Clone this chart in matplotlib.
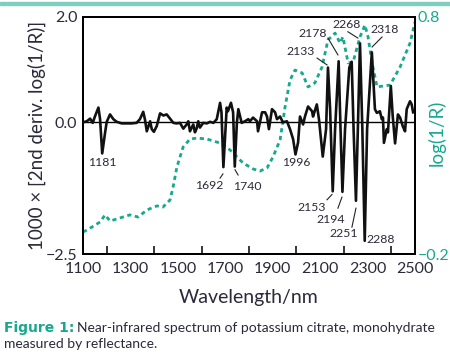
import matplotlib
matplotlib.use("Agg")
import matplotlib.pyplot as plt
from matplotlib.patches import Rectangle

plt.rcParams['font.family'] = ['Lato', 'DejaVu Sans']

# ---- 2nd derivative spectrum (left axis) ----
deriv_nm = [1100, 1116, 1130, 1141, 1151, 1165, 1172, 1181, 1193, 1200, 1214, 1228, 1242,
            1263, 1284, 1305, 1326, 1340, 1354, 1361, 1369, 1383, 1390, 1399, 1411, 1425,
            1439, 1453, 1467, 1481, 1495, 1509, 1523, 1537, 1544, 1551, 1565, 1572, 1579,
            1586, 1593, 1607, 1622, 1636, 1650, 1664, 1678, 1684, 1692, 1706, 1711, 1724,
            1733, 1740, 1749, 1755, 1769, 1783, 1797, 1804, 1817, 1834, 1838, 1855, 1868,
            1876, 1884, 1897, 1910, 1918, 1931, 1943, 1960, 1973, 1986, 1996, 2007, 2015,
            2028, 2036, 2049, 2066, 2070, 2086, 2095, 2111, 2125, 2133, 2142, 2153, 2163,
            2178, 2186, 2194, 2205, 2223, 2233, 2241, 2251, 2259, 2268, 2278, 2288, 2298,
            2318, 2331, 2339, 2344, 2352, 2360, 2365, 2369, 2381, 2386, 2398, 2406, 2416,
            2428, 2437, 2449, 2458, 2465, 2479, 2486, 2492]
deriv_val = [0.00, 0.02, 0.07, -0.01, 0.12, 0.28, 0.06, -0.59, -0.20, 0.01, 0.15, 0.06, 0.01,
             -0.02, -0.02, -0.02, -0.01, 0.06, 0.20, 0.06, -0.17, 0.02, -0.13, -0.18, -0.07, 0.17,
             0.13, 0.15, 0.07, -0.01, -0.02, -0.01, -0.12, -0.04, 0.02, -0.17, -0.04, -0.19, -0.12,
             0.02, -0.10, -0.01, -0.02, 0.01, -0.01, 0.06, 0.37, 0.19, -0.85, 0.28, 0.21, 0.37,
             0.19, -0.84, 0.00, 0.25, -0.01, 0.02, 0.06, 0.02, 0.09, 0.02, -0.17, 0.19, 0.19,
             0.11, -0.13, 0.25, 0.19, 0.06, 0.11, 0.00, 0.02, -0.13, -0.32, -0.61, -0.38, 0.11,
             -0.04, 0.11, 0.30, 0.21, 0.11, 0.34, 0.06, -0.65, -0.13, 1.04, 0.25, -1.31, -0.13,
             1.16, -0.13, -1.32, -0.13, 1.04, 1.15, -0.13, -1.49, -0.13, 1.50, -0.13, -2.25, -0.13,
             1.33, 0.25, 0.18, 0.19, 0.21, 0.06, 0.09, -0.39, -0.13, -0.19, 0.69, 0.12, -0.40,
             0.15, 0.09, -0.08, -0.17, 0.25, 0.40, 0.34, 0.19]

# ---- log(1/R) spectrum (right axis) ----
logr_nm = [1100, 1117, 1172, 1193, 1214, 1256, 1298, 1332, 1370, 1412, 1437, 1467, 1480,
           1496, 1522, 1551, 1581, 1623, 1678, 1720, 1775, 1817, 1846, 1876, 1901, 1931,
           1952, 1973, 1994, 2024, 2049, 2078, 2108, 2133, 2163, 2184, 2196, 2218, 2239,
           2268, 2289, 2302, 2319, 2340, 2395, 2437, 2479, 2500]
logr_val = [-0.107, -0.099, -0.065, -0.035, -0.061, -0.048, -0.035, -0.044, -0.014, 0.003,
            -0.002, 0.028, 0.083, 0.167, 0.251, 0.285, 0.289, 0.285, 0.268, 0.239, 0.184,
            0.159, 0.150, 0.163, 0.209, 0.281, 0.420, 0.534, 0.576, 0.564, 0.505, 0.522,
            0.589, 0.703, 0.732, 0.690, 0.716, 0.606, 0.610, 0.716, 0.766, 0.716, 0.606,
            0.505, 0.513, 0.589, 0.690, 0.779]

# ---- peak labels ----
peak_labels = ['1181', '1692', '1740', '1996', '2153', '2194', '2251', '2288',
               '2133', '2178', '2268', '2318']
label_xy = [(1180, -0.77), (1633, -1.19), (1792, -1.21), (1998, -0.77), (2066, -1.61),
            (2146, -1.84), (2201, -2.12), (2357, -2.23), (2019, 1.34), (2070, 1.68),
            (2213, 1.85), (2374, 1.77)]
leaders = [None, ((1678, -1.06), (1690, -0.98)), ((1741, -0.90), (1754, -1.00)), None,
           ((2129, -1.47), (2150, -1.37)), ((2175, -1.63), (2192, -1.42)),
           ((2234, -1.99), (2251, -1.63)), None,
           ((2087, 1.22), (2129, 1.09)), ((2133, 1.60), (2175, 1.28)),
           ((2217, 1.72), (2259, 1.60)), ((2361, 1.62), (2319, 1.43))]

x_ticks = [1100, 1300, 1500, 1700, 1900, 2100, 2300, 2500]
minor_ticks = list(range(1200, 2500, 100))

TEAL = '#17a88e'
TEXT = '#2a2a3a'

fig = plt.figure(figsize=(4.5, 3.57), dpi=100)
fig.patches.append(Rectangle((0, 0.986), 1, 0.009, transform=fig.transFigure,
                             color='#7fcfbf', zorder=0))

ax = fig.add_axes([83/450, 1 - 254/357, (415-83)/450, (254-17)/357])
ax2 = ax.twinx()
ax.set_zorder(ax2.get_zorder() + 1)
ax.patch.set_visible(False)

ax2.plot(logr_nm, logr_val, color=TEAL, lw=2.0, linestyle=(0, (1.5, 1.3)),
         solid_capstyle='butt')
ax2.set_ylim(-0.2, 0.8)
ax2.set_yticks([-0.2, 0.8])
ax2.set_yticklabels(['\u22120.2', '0.8'], color=TEAL, fontsize=11.5)
ax2.tick_params(axis='y', length=0, pad=2)
ax2.set_ylabel('log(1/R)', color=TEAL, fontsize=13.5)
ax2.yaxis.set_label_coords(1.039, 0.51)

ax.axhline(0, color='black', lw=1.0, zorder=1)
ax.plot(deriv_nm, deriv_val, color='#111111', lw=1.9, solid_joinstyle='round', zorder=3)
ax.set_xlim(1100, 2500)
ax.set_ylim(-2.5, 2.0)
ax.set_yticks([-2.5, 0.0, 2.0])
ax.set_yticklabels(['\u22122.5', '0.0', '2.0'], fontsize=11.5, color=TEXT)
ax.tick_params(axis='y', length=0, pad=4)
ax.set_xticks(x_ticks)
ax.set_xticklabels([str(v) for v in x_ticks], fontsize=11.5, color=TEXT)
ax.set_xticks(minor_ticks, minor=True)
ax.tick_params(axis='x', which='both', direction='in', length=6, width=1.1, pad=6)
ax.tick_params(axis='x', which='major', length=0)
ax.set_xlabel('Wavelength/nm', fontsize=14, color=TEXT)
ax.xaxis.set_label_coords(0.5, -0.148)
ax.set_ylabel('1000 \u00d7 [2nd deriv. log(1/R)]', fontsize=13.5, color=TEXT)
ax.yaxis.set_label_coords(-0.111, 0.5)

for a in (ax, ax2):
    for s in a.spines.values():
        s.set_linewidth(1.4)
        s.set_color('black')

for lab, (lx, ly), ld in zip(peak_labels, label_xy, leaders):
    ax.text(lx, ly, lab, fontsize=8.8, color=TEXT, ha='center', va='center', zorder=5)
    if ld is not None:
        ax.plot([ld[0][0], ld[1][0]], [ld[0][1], ld[1][1]], color='#222222', lw=0.8, zorder=5)

fig.text(4/450, 1 - 328/357, 'Figure 1:', fontsize=10, fontweight='bold',
         family=['DejaVu Sans'], color=TEAL, va='center', ha='left')
fig.text(77/450, 1 - 328/357,
         'Near-infrared spectrum of potassium citrate, monohydrate',
         fontsize=10, color=TEXT, va='center', ha='left')
fig.text(4/450, 1 - 344/357, 'measured by reflectance.', fontsize=10, color=TEXT,
         va='center', ha='left')

fig.savefig('out.png', dpi=100)
